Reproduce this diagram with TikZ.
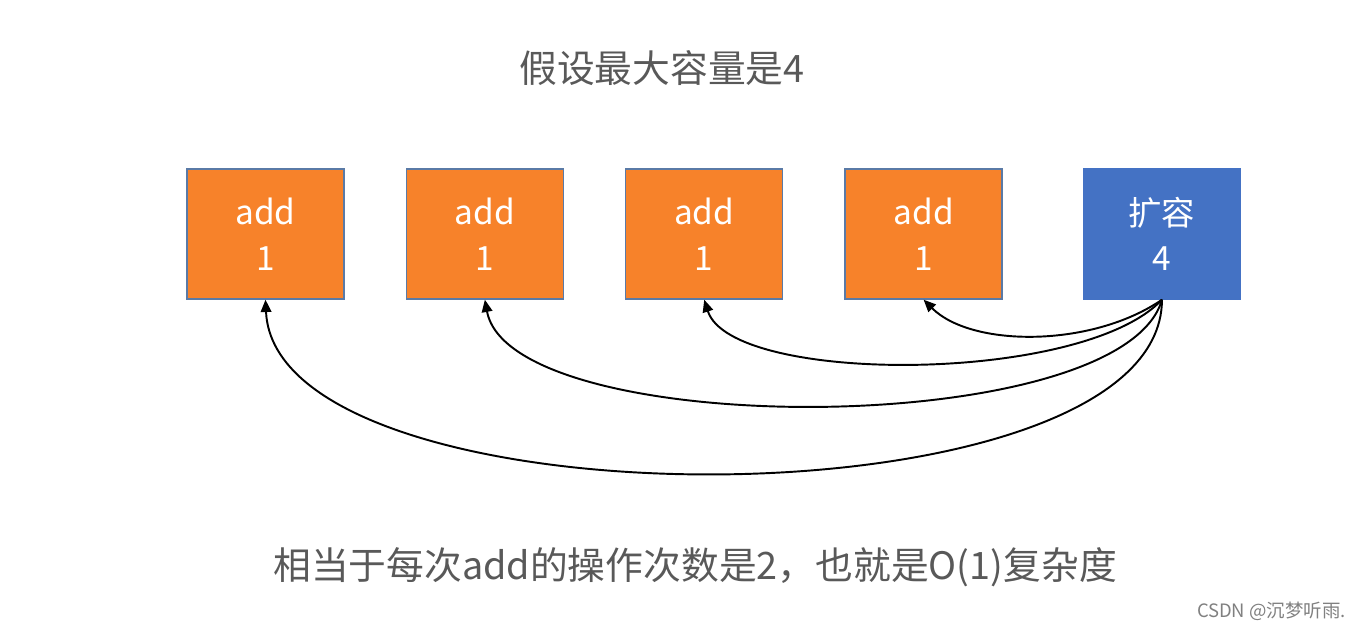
\documentclass[tikz,border=0pt]{standalone}
\usepackage{fontspec}
\setmainfont{Noto Sans CJK SC}
\usepackage{tikz}
\usetikzlibrary{arrows.meta,positioning}
\definecolor{addorange}{HTML}{F7822A}
\definecolor{growblue}{HTML}{4472C4}
\definecolor{edgeblue}{HTML}{5A7AA6}
\definecolor{textgrey}{HTML}{595959}

\begin{document}
\begin{tikzpicture}[
  x=0.02cm, y=-0.02cm,
  node distance=0.3cm and 1.22cm,
  cell/.style={rectangle, draw=edgeblue, line width=0.8pt, fill=addorange,
               minimum height=2.6cm, minimum width=3.14cm, inner sep=0pt,
               font=\fontsize{19}{26}\selectfont, text=white, align=center},
  growcell/.style={cell, draw=growblue, fill=growblue},
  arr/.style={-{Triangle[length=7pt,width=6pt]}, line width=1.1pt, color=black},
  lbl/.style={font=\fontsize{21.5}{26}\selectfont, text=textgrey},
]
  \useasboundingbox (0,0) rectangle (1354,630);
  \node[lbl](title) at (662,68){假设最大容量是4};
  \node[cell](a1) at (265.5,234){add\\1}; \node[cell,right=of a1](a2){add\\1};
  \node[cell,right=of a2](a3){add\\1}; \node[cell,right=of a3](a4){add\\1};
  \node[growcell,right=1.6cm of a4](k){扩容\\4};
  \draw[arr](k.south) .. controls +(-70,48) and +(48,48) .. (a4.south);
  \draw[arr](k.south) .. controls +(-80,85) and +(27,85) .. (a3.south);
  \draw[arr](k.south) .. controls +(-40,141) and +(26,141) .. (a2.south);
  \draw[arr](k.south) .. controls +(0,231) and +(10,231) .. (a1.south);
  \node[lbl](sum) at (695,567){相当于每次add的操作次数是2，也就是O(1)复杂度};
  \node[font=\fontsize{10.5}{12}\selectfont, text=gray, anchor=east](mark) at (1352,611){CSDN @沉梦听雨.};
\end{tikzpicture}
\end{document}
